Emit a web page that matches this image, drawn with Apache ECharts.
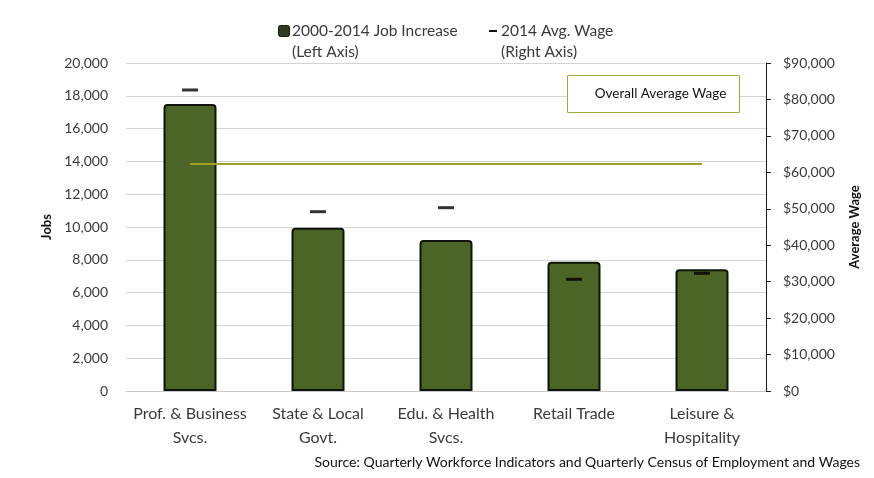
<!DOCTYPE html>
<html>
<head>
<meta charset="utf-8">
<script src="https://cdn.jsdelivr.net/npm/echarts@6/dist/echarts.min.js"></script>
<style>
  html, body { margin: 0; padding: 0; background: #fff; }
  #chart { width: 874px; height: 478px; }
</style>
</head>
<body>
<div id="chart"></div>
<script>
// Industry sectors on the x axis
var categories = [
  'Prof. & Business\nSvcs.',
  'State & Local\nGovt.',
  'Edu. & Health\nSvcs.',
  'Retail Trade',
  'Leisure &\nHospitality'
];
// Job growth 2000-2014 (left axis)
var jobIncrease = [17500, 9950, 9200, 7880, 7420];
// Average wage in 2014 (right axis)
var avgWage = [82600, 49200, 50300, 30650, 32300];
// Overall average wage across all industries, drawn across the sectors
var overallWage = [62300, 62300, 62300, 62300, 62300];

var jobTicks = { min: 0, max: 20000, interval: 2000 };
var wageTicks = { min: 0, max: 90000, interval: 10000 };

var legendLabels = ['2000-2014 Job Increase\n(Left Axis)', '2014 Avg. Wage\n(Right Axis)'];
var boxLabel = 'Overall Average Wage';
var sourceNote = 'Source: Quarterly Workforce Indicators and Quarterly Census of Employment and Wages';

var FONT = 'Lato';
var TEXT = '#3a3a3a';
var chart = echarts.init(document.getElementById('chart'), null, { renderer: 'canvas' });

function thousands(v) {
  return String(v).replace(/\B(?=(\d{3})+(?!\d))/g, ',');
}

var legendText = { fontFamily: FONT, fontSize: 15.5, fill: TEXT, lineHeight: 21 };

chart.setOption({
  animation: false,
  textStyle: { fontFamily: FONT },
  grid: { left: 126, right: 108, top: 63, bottom: 87 },
  xAxis: {
    type: 'category',
    data: categories,
    axisLine: { show: true, lineStyle: { color: '#c8c8c8', width: 1 } },
    axisTick: { show: false },
    axisLabel: {
      fontFamily: FONT, fontSize: 16, color: TEXT,
      lineHeight: 24, margin: 11, interval: 0
    }
  },
  yAxis: [
    {
      type: 'value',
      min: jobTicks.min, max: jobTicks.max, interval: jobTicks.interval,
      name: 'Jobs',
      nameLocation: 'middle',
      nameRotate: 90,
      nameGap: 73,
      nameTextStyle: { fontFamily: FONT, fontSize: 13, fontWeight: 'bold', color: '#111' },
      axisLine: { show: false },
      axisTick: { show: false },
      axisLabel: { fontFamily: FONT, fontSize: 14, color: TEXT, margin: 18, formatter: thousands },
      splitLine: { show: true, lineStyle: { color: '#d4d4d4', width: 1 } }
    },
    {
      type: 'value',
      position: 'right',
      min: wageTicks.min, max: wageTicks.max, interval: wageTicks.interval,
      name: 'Average Wage',
      nameLocation: 'middle',
      nameRotate: 90,
      nameGap: 82,
      nameTextStyle: { fontFamily: FONT, fontSize: 13, fontWeight: 'bold', color: '#111' },
      axisLine: { show: true, lineStyle: { color: '#1a1a1a', width: 1 } },
      axisTick: { show: true, inside: false, length: 5, lineStyle: { color: '#1a1a1a' } },
      axisLabel: {
        fontFamily: FONT, fontSize: 14, color: TEXT, margin: 17,
        formatter: function (v) { return '$' + thousands(v); }
      },
      splitLine: { show: false }
    }
  ],
  graphic: [
    // key for the bars and the wage markers
    {
      type: 'rect',
      left: 278, top: 25,
      shape: { width: 11, height: 11, r: 2 },
      style: { fill: '#2f3a1e', stroke: '#141a0c', lineWidth: 1 }
    },
    {
      type: 'text',
      left: 292, top: 20,
      style: Object.assign({ text: legendLabels[0] }, legendText)
    },
    {
      type: 'rect',
      left: 489, top: 30,
      shape: { width: 8, height: 2 },
      style: { fill: '#111' }
    },
    {
      type: 'text',
      left: 501, top: 20,
      style: Object.assign({ text: legendLabels[1] }, legendText)
    },
    // boxed label for the overall average line, drawn above the grid lines
    {
      type: 'group',
      left: 567,
      top: 75,
      z: 20,
      children: [
        {
          type: 'rect',
          z: 20,
          shape: { x: 0, y: 0, width: 172, height: 37 },
          style: { fill: '#fff', stroke: '#a6a63c', lineWidth: 1 }
        },
        {
          type: 'text',
          z: 21,
          x: 93, y: 18.5,
          style: {
            text: boxLabel,
            fontFamily: FONT, fontSize: 13.5, fill: '#111',
            align: 'center', verticalAlign: 'middle'
          }
        }
      ]
    },
    {
      type: 'text',
      right: 14,
      top: 455,
      style: {
        text: sourceNote,
        fontFamily: FONT, fontSize: 14, fill: '#111'
      }
    }
  ],
  series: [
    {
      name: 'Jobs',
      type: 'bar',
      yAxisIndex: 0,
      data: jobIncrease,
      barWidth: 53,
      itemStyle: {
        color: '#4b6526',
        borderColor: '#0e140a',
        borderWidth: 2,
        borderRadius: [3, 3, 0, 0]
      },
      z: 2
    },
    {
      name: 'Overall',
      type: 'line',
      yAxisIndex: 1,
      data: overallWage,
      symbol: 'none',
      lineStyle: { color: '#a2a220', width: 2 },
      z: 3
    },
    {
      name: 'Wage',
      type: 'scatter',
      yAxisIndex: 1,
      data: avgWage,
      symbol: 'rect',
      symbolSize: [16, 3],
      itemStyle: { color: '#000' },
      z: 4
    }
  ]
});
</script>
</body>
</html>
